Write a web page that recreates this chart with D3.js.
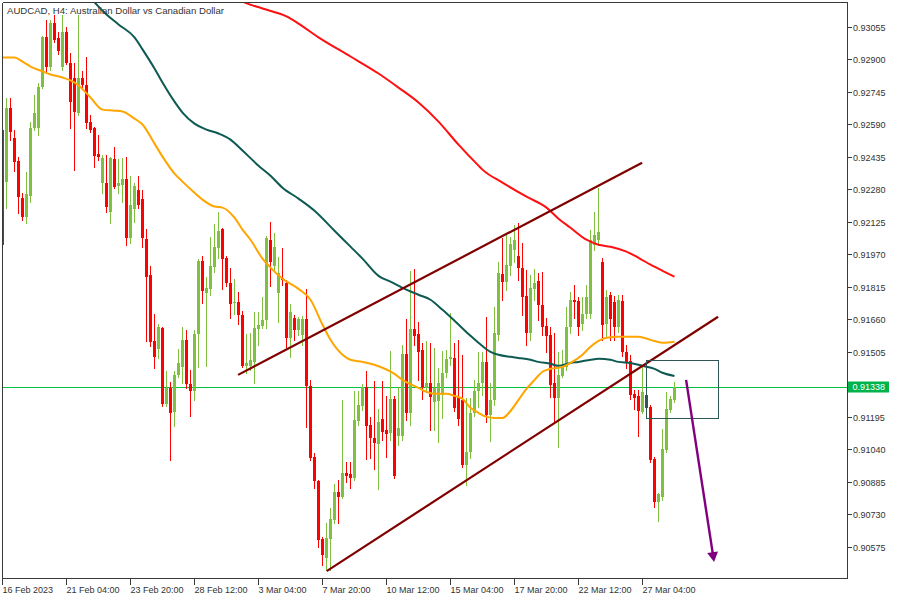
<!DOCTYPE html>
<html><head><meta charset="utf-8">
<script src="https://cdn.jsdelivr.net/npm/d3@7"></script>
<style>body{margin:0;background:#fff;} svg{display:block;}</style>
</head><body>
<svg id="chart" width="900" height="600"></svg>
<script>
const chartTitle = "AUDCAD, H4:  Australian Dollar vs Canadian Dollar";

const opens = [0.92564,0.92316,0.92669,0.92526,0.92416,0.92240,0.92149,0.92249,0.92573,0.92573,
0.92769,0.93003,0.92864,0.93070,0.92998,0.92864,0.93031,0.92883,0.92812,0.92645,
0.92812,0.92778,0.92602,0.92573,0.92449,0.92311,0.92311,0.92173,0.92426,0.92297,
0.92301,0.92330,0.92049,0.92187,0.92278,0.92235,0.92044,0.91872,0.91557,0.91519,
0.91619,0.91257,0.91333,0.91219,0.91395,0.91433,0.91562,0.91352,0.91319,0.91591,
0.91939,0.91786,0.91805,0.91910,0.92001,0.92092,0.91953,0.91834,0.91739,0.91743,
0.91681,0.91438,0.91438,0.91457,0.91615,0.91629,0.91658,0.92039,0.91915,0.91786,
0.91858,0.91834,0.91572,0.91667,0.91610,0.91586,0.91662,0.91343,0.91004,0.90890,
0.90613,0.90522,0.90613,0.90704,0.90837,0.90813,0.90928,0.90923,0.90904,0.91176,
0.91247,0.91338,0.91157,0.91095,0.91066,0.91185,0.91133,0.91119,0.91281,0.91104,
0.91104,0.91495,0.91214,0.91615,0.91591,0.91514,0.91333,0.91357,0.91266,0.91271,
0.91300,0.91405,0.91472,0.91476,0.91290,0.91276,0.90966,0.91028,0.91214,0.91319,
0.91357,0.91457,0.91204,0.91276,0.91586,0.91877,0.91839,0.91915,0.91992,0.91963,
0.91906,0.91772,0.91596,0.91805,0.91844,0.91729,0.91629,0.91586,0.91357,0.91285,
0.91390,0.91433,0.91624,0.91753,0.91748,0.91638,0.91686,0.91686,0.92015,0.92039,
0.91934,0.91638,0.91777,0.91743,0.91624,0.91748,0.91505,0.91462,0.91305,0.91295,
0.91219,0.91300,0.91243,0.90995,0.90790,0.90813,0.91038,0.91228,0.91276];

const highs = [0.92573,0.92712,0.92712,0.92564,0.92435,0.92263,0.92364,0.92602,0.92731,0.92788,
0.93012,0.93084,0.93084,0.93112,0.93027,0.93112,0.93055,0.92931,0.92883,0.93112,
0.92845,0.92912,0.92635,0.92578,0.92540,0.92445,0.92445,0.92435,0.92483,0.92426,
0.92430,0.92435,0.92344,0.92311,0.92344,0.92278,0.92092,0.91915,0.91686,0.91638,
0.91624,0.91414,0.91362,0.91414,0.91519,0.91624,0.91610,0.91419,0.91610,0.91949,
0.91963,0.91863,0.92053,0.92115,0.92173,0.92096,0.91963,0.91906,0.91853,0.91791,
0.91700,0.91591,0.91596,0.91696,0.91696,0.91767,0.92058,0.92125,0.92073,0.91958,
0.92001,0.91848,0.91734,0.91681,0.91672,0.91677,0.91805,0.91371,0.91023,0.90894,
0.90622,0.90689,0.90761,0.90875,0.90894,0.91276,0.90980,0.90980,0.91319,0.91319,
0.91352,0.91414,0.91195,0.91367,0.91233,0.91367,0.91295,0.91510,0.91295,0.91338,
0.91538,0.91662,0.91891,0.91901,0.91648,0.91548,0.91557,0.91548,0.91524,0.91429,
0.91510,0.91514,0.91691,0.91548,0.91562,0.91491,0.91285,0.91285,0.91371,0.91505,
0.91505,0.91672,0.91357,0.91720,0.91934,0.92049,0.92063,0.92053,0.92111,0.92120,
0.92025,0.91896,0.91872,0.91901,0.91882,0.91887,0.91667,0.91624,0.91596,0.91505,
0.91514,0.91720,0.91791,0.91824,0.91767,0.91767,0.91824,0.92087,0.92173,0.92287,
0.91953,0.91801,0.91791,0.91772,0.91777,0.91777,0.91538,0.91491,0.91324,0.91324,
0.91433,0.91371,0.91252,0.91004,0.90832,0.91138,0.91314,0.91295,0.91362];

const lows = [0.91991,0.92192,0.92516,0.92368,0.92168,0.92135,0.92120,0.92220,0.92564,0.92540,
0.92764,0.92841,0.92850,0.92979,0.92922,0.92850,0.92874,0.92573,0.92373,0.92635,
0.92755,0.92573,0.92554,0.92387,0.92421,0.92263,0.92173,0.92120,0.92287,0.92263,
0.92220,0.92015,0.92025,0.92125,0.92192,0.92006,0.91557,0.91534,0.91429,0.91476,
0.91247,0.91247,0.90990,0.91152,0.91386,0.91357,0.91333,0.91200,0.91276,0.91433,
0.91739,0.91438,0.91777,0.91887,0.91953,0.91805,0.91820,0.91667,0.91686,0.91638,
0.91433,0.91405,0.91419,0.91357,0.91538,0.91619,0.91619,0.91820,0.91896,0.91648,
0.91824,0.91529,0.91481,0.91562,0.91586,0.91538,0.91147,0.90990,0.90856,0.90575,
0.90489,0.90465,0.90465,0.90689,0.90689,0.90808,0.90885,0.90856,0.90894,0.91157,
0.91228,0.90995,0.90999,0.90947,0.90851,0.91085,0.91004,0.91085,0.90904,0.91061,
0.91085,0.91181,0.91157,0.91538,0.91371,0.91281,0.91314,0.91133,0.91133,0.91076,
0.91190,0.91386,0.91443,0.91223,0.91157,0.90956,0.90870,0.90999,0.91200,0.91243,
0.91300,0.91171,0.91080,0.91252,0.91562,0.91753,0.91801,0.91872,0.91934,0.91848,
0.91681,0.91538,0.91562,0.91753,0.91658,0.91586,0.91505,0.91290,0.91166,0.91052,
0.91386,0.91419,0.91596,0.91667,0.91586,0.91610,0.91667,0.91667,0.91992,0.92015,
0.91562,0.91577,0.91562,0.91562,0.91600,0.91486,0.91429,0.91281,0.91233,0.91104,
0.91214,0.91219,0.90980,0.90766,0.90699,0.90799,0.91028,0.91219,0.91266];

const closes = [0.92015,0.92669,0.92550,0.92411,0.92244,0.92149,0.92259,0.92573,0.92645,0.92769,
0.93003,0.92860,0.93074,0.92993,0.92936,0.93031,0.92879,0.92697,0.92650,0.92812,
0.92774,0.92597,0.92564,0.92440,0.92435,0.92430,0.92197,0.92430,0.92292,0.92311,
0.92330,0.92049,0.92206,0.92297,0.92206,0.92049,0.91863,0.91553,0.91481,0.91624,
0.91257,0.91333,0.91214,0.91395,0.91452,0.91562,0.91352,0.91319,0.91591,0.91939,
0.91796,0.91810,0.91915,0.92006,0.92082,0.91949,0.91834,0.91734,0.91743,0.91681,
0.91438,0.91452,0.91467,0.91619,0.91634,0.91658,0.92049,0.91934,0.92006,0.91882,
0.91848,0.91572,0.91696,0.91610,0.91662,0.91662,0.91343,0.90999,0.90890,0.90608,
0.90537,0.90618,0.90708,0.90837,0.90813,0.90928,0.90913,0.90904,0.91181,0.91252,
0.91338,0.91152,0.91095,0.91071,0.91171,0.91123,0.91114,0.91281,0.90913,0.91142,
0.91495,0.91214,0.91615,0.91581,0.91505,0.91338,0.91357,0.91290,0.91333,0.91357,
0.91405,0.91472,0.91481,0.91238,0.91185,0.90966,0.91028,0.91214,0.91319,0.91357,
0.91457,0.91204,0.91276,0.91596,0.91882,0.91839,0.91920,0.92020,0.92039,0.91906,
0.91767,0.91596,0.91810,0.91834,0.91729,0.91624,0.91581,0.91347,0.91285,0.91395,
0.91433,0.91624,0.91753,0.91743,0.91624,0.91686,0.91767,0.92039,0.92063,0.92077,
0.91634,0.91767,0.91662,0.91624,0.91753,0.91505,0.91457,0.91300,0.91285,0.91223,
0.91314,0.91238,0.90990,0.90790,0.90828,0.91042,0.91233,0.91281,0.91338];

const priceTicks = [0.90575,0.90730,0.90885,0.91040,0.91195,0.91350,0.91505,0.91660,0.91815,
0.91970,0.92125,0.92280,0.92435,0.92590,0.92745,0.92900,0.93055];
const priceTickLabels = ["0.90575","0.90730","0.90885","0.91040","0.91195","","0.91505","0.91660","0.91815",
"0.91970","0.92125","0.92280","0.92435","0.92590","0.92745","0.92900","0.93055"];
const timeTickBars = [0,16,32,48,64,80,96,112,128,144,160];
const timeTickLabels = ["16 Feb 2023","21 Feb 04:00","23 Feb 20:00","28 Feb 12:00","3 Mar 04:00",
"7 Mar 20:00","10 Mar 12:00","15 Mar 04:00","17 Mar 20:00","22 Mar 12:00","27 Mar 04:00"];

const lastPrice = 0.91338;

// Moving averages (bar index, value)
const maFastBars = [0,3,5,7,10,12,15,17,19,22,25,28,30,33,35,38,40,43,45,48,50,53,55,58,60,62,65,67,70,74,77,80,82,85,87,90,93,95,98,100,104,106,108,111,113,115,117,119,121,123,125,127,129,131,133,135,137,140,142,145,147,149,151,154,159,162,165,168];
const maFastValues = [0.92907,0.92907,0.92888,0.92864,0.92841,0.92826,0.92812,0.92798,0.92774,0.92717,0.92659,0.92654,0.92650,0.92616,0.92588,0.92497,0.92435,0.92354,0.92316,0.92263,0.92230,0.92197,0.92192,0.92144,0.92087,0.92039,0.91949,0.91906,0.91853,0.91805,0.91753,0.91634,0.91562,0.91491,0.91467,0.91457,0.91443,0.91429,0.91400,0.91371,0.91333,0.91314,0.91305,0.91305,0.91295,0.91281,0.91238,0.91214,0.91195,0.91190,0.91190,0.91223,0.91276,0.91328,0.91371,0.91410,0.91424,0.91433,0.91452,0.91491,0.91529,0.91557,0.91572,0.91577,0.91577,0.91562,0.91548,0.91553];

const maMidBars = [19,23,26,29,33,35,38,40,43,45,48,51,54,57,60,64,67,70,74,78,83,87,90,94,97,100,104,107,110,113,117,119,122,124,127,129,132,134,137,139,142,144,147,149,152,154,157,160,163,165,168];
const maMidValues = [0.93251,0.93170,0.93112,0.93065,0.93003,0.92946,0.92855,0.92788,0.92697,0.92645,0.92592,0.92564,0.92545,0.92516,0.92464,0.92392,0.92344,0.92287,0.92235,0.92177,0.92082,0.92006,0.91949,0.91867,0.91839,0.91810,0.91777,0.91753,0.91705,0.91653,0.91581,0.91548,0.91505,0.91491,0.91481,0.91476,0.91467,0.91457,0.91448,0.91438,0.91452,0.91457,0.91467,0.91472,0.91467,0.91457,0.91452,0.91438,0.91424,0.91405,0.91390];

const maSlowBars = [56,60,65,71,74,79,87,94,99,104,109,114,119,120,125,131,136,139,142,146,149,152,156,159,162,165,168];
const maSlowValues = [0.93222,0.93174,0.93141,0.93103,0.93069,0.93003,0.92912,0.92831,0.92764,0.92693,0.92602,0.92492,0.92392,0.92373,0.92311,0.92244,0.92192,0.92139,0.92096,0.92039,0.92015,0.92006,0.91982,0.91953,0.91920,0.91891,0.91863];

// Drawn objects (bar index, price)
const channelUpper = [[58.9,0.91395],[159.9,0.92406]];
const channelLower = [[81.05,0.90460],[178.9,0.91672]];
const zoneBox = [[160.9,0.91465],[178.9,0.91189]];
const arrowPath = [[170.9,0.91371],[177.9,0.90503]];

const svg = d3.select("#chart");
const x = d3.scaleLinear().domain([0,168]).range([2.5,674.5]);
const y = d3.scaleLinear().domain([0.90575,0.93055]).range([547,26.5]);

const bull = "#80c040", bear = "#ff0000";
const axisColor = "#3a3a3a";
const font = "'Liberation Sans', Arial, sans-serif";

svg.append("rect").attr("width",900).attr("height",600).attr("fill","#fff");

const defs = svg.append("defs");
defs.append("clipPath").attr("id","plotClip").append("rect")
  .attr("x",3).attr("y",3).attr("width",844).attr("height",575);

const plot = svg.append("g").attr("clip-path","url(#plotClip)");

// price line
plot.append("line")
  .attr("x1",3).attr("x2",847)
  .attr("y1",Math.round(y(lastPrice))+0.5).attr("y2",Math.round(y(lastPrice))+0.5)
  .attr("stroke","#00c040").attr("stroke-width",1);

// candles
const bars = d3.range(opens.length).map(i=>({i,o:opens[i],h:highs[i],l:lows[i],c:closes[i]}));
const cg = plot.append("g").attr("shape-rendering","crispEdges");
cg.selectAll("rect.wick").data(bars).join("rect").attr("class","wick")
  .attr("x",d=>Math.round(x(d.i)-0.5))
  .attr("width",1)
  .attr("y",d=>Math.round(y(d.h)))
  .attr("height",d=>Math.max(1,Math.round(y(d.l))-Math.round(y(d.h))+1))
  .attr("fill",d=>d.c>=d.o?bull:bear);
cg.selectAll("rect.body").data(bars).join("rect").attr("class","body")
  .attr("x",d=>Math.round(x(d.i)-0.5)-1)
  .attr("width",3)
  .attr("y",d=>Math.round(y(Math.max(d.o,d.c))))
  .attr("height",d=>Math.max(1,Math.round(y(Math.min(d.o,d.c)))-Math.round(y(Math.max(d.o,d.c)))))
  .attr("fill",d=>d.c>=d.o?bull:bear);

// moving averages
const maLine = d3.line().x(d=>x(d[0])).y(d=>y(d[1])).curve(d3.curveMonotoneX);
function drawMA(bs, vs, color){
  plot.append("path").datum(bs.map((b,k)=>[b,vs[k]]))
    .attr("d",maLine).attr("fill","none").attr("stroke",color).attr("stroke-width",2);
}
drawMA(maSlowBars, maSlowValues, "#ff1010");
drawMA(maMidBars, maMidValues, "#0d5a52");
drawMA(maFastBars, maFastValues, "#ffa500");

// channel lines
const seg = d3.line().x(d=>x(d[0])).y(d=>y(d[1]));
[channelUpper, channelLower].forEach(pts=>{
  plot.append("path").datum(pts).attr("d",seg).attr("fill","none")
    .attr("stroke","#800000").attr("stroke-width",2.2);
});

// zone rectangle
plot.append("rect")
  .attr("x",Math.round(x(zoneBox[0][0]))+0.5)
  .attr("y",Math.round(y(zoneBox[0][1]))+0.5)
  .attr("width",Math.round(x(zoneBox[1][0]))-Math.round(x(zoneBox[0][0])))
  .attr("height",Math.round(y(zoneBox[1][1]))-Math.round(y(zoneBox[0][1])))
  .attr("fill","none").attr("stroke","#2f5656").attr("stroke-width",1);

// arrow
const ax1=x(arrowPath[0][0]), ay1=y(arrowPath[0][1]), ax2=x(arrowPath[1][0]), ay2=y(arrowPath[1][1]);
const len=Math.hypot(ax2-ax1,ay2-ay1), ux=(ax2-ax1)/len, uy=(ay2-ay1)/len;
const headL=10, headW=5.5;
plot.append("line").attr("x1",ax1).attr("y1",ay1)
  .attr("x2",ax2-ux*headL*0.8).attr("y2",ay2-uy*headL*0.8)
  .attr("stroke","#800080").attr("stroke-width",2.4);
plot.append("polygon")
  .attr("points",[[ax2,ay2],[ax2-ux*headL-uy*headW, ay2-uy*headL+ux*headW],[ax2-ux*headL+uy*headW, ay2-uy*headL-ux*headW]].map(p=>p.join(",")).join(" "))
  .attr("fill","#800080");

// frame
const frame = svg.append("g").attr("shape-rendering","crispEdges");
frame.append("line").attr("x1",2.5).attr("x2",847.5).attr("y1",2.5).attr("y2",2.5).attr("stroke",axisColor);
frame.append("line").attr("x1",2.5).attr("x2",2.5).attr("y1",2.5).attr("y2",578.5).attr("stroke",axisColor);
frame.append("line").attr("x1",847.5).attr("x2",847.5).attr("y1",2.5).attr("y2",578.5).attr("stroke",axisColor);
frame.append("line").attr("x1",2.5).attr("x2",847.5).attr("y1",578.5).attr("y2",578.5).attr("stroke",axisColor);

// y axis ticks
const yt = svg.append("g");
priceTicks.forEach((p,k)=>{
  if(!priceTickLabels[k]) return;
  const yy = Math.round(y(p))+0.5;
  yt.append("line").attr("x1",847.5).attr("x2",851.5).attr("y1",yy).attr("y2",yy)
    .attr("stroke",axisColor).attr("shape-rendering","crispEdges");
  yt.append("text").attr("x",853).attr("y",yy+3.2).text(priceTickLabels[k])
    .attr("font-family",font).attr("font-size",9).attr("fill","#333");
});

// last price tag
const ly = y(lastPrice);
svg.append("rect").attr("x",848).attr("y",Math.round(ly)-5.5).attr("width",41).attr("height",11)
  .attr("fill","#00b34a");
svg.append("text").attr("x",852.5).attr("y",Math.round(ly)+3.2).text(lastPrice.toFixed(5))
  .attr("font-family",font).attr("font-size",9).attr("fill","#fff");

// x axis ticks
const xt = svg.append("g");
timeTickBars.forEach((b,k)=>{
  const xx = Math.round(x(b)-0.5)+0.5;
  xt.append("line").attr("x1",xx).attr("x2",xx).attr("y1",578.5).attr("y2",584.5)
    .attr("stroke",axisColor).attr("shape-rendering","crispEdges");
  xt.append("text").attr("x",xx).attr("y",593).text(timeTickLabels[k])
    .attr("font-family",font).attr("font-size",9).attr("fill","#333");
});

// title
svg.append("text").attr("x",7).attr("y",13.5).text(chartTitle)
  .attr("font-family",font).attr("font-size",9.6).attr("fill","#333");
</script>
</body></html>
